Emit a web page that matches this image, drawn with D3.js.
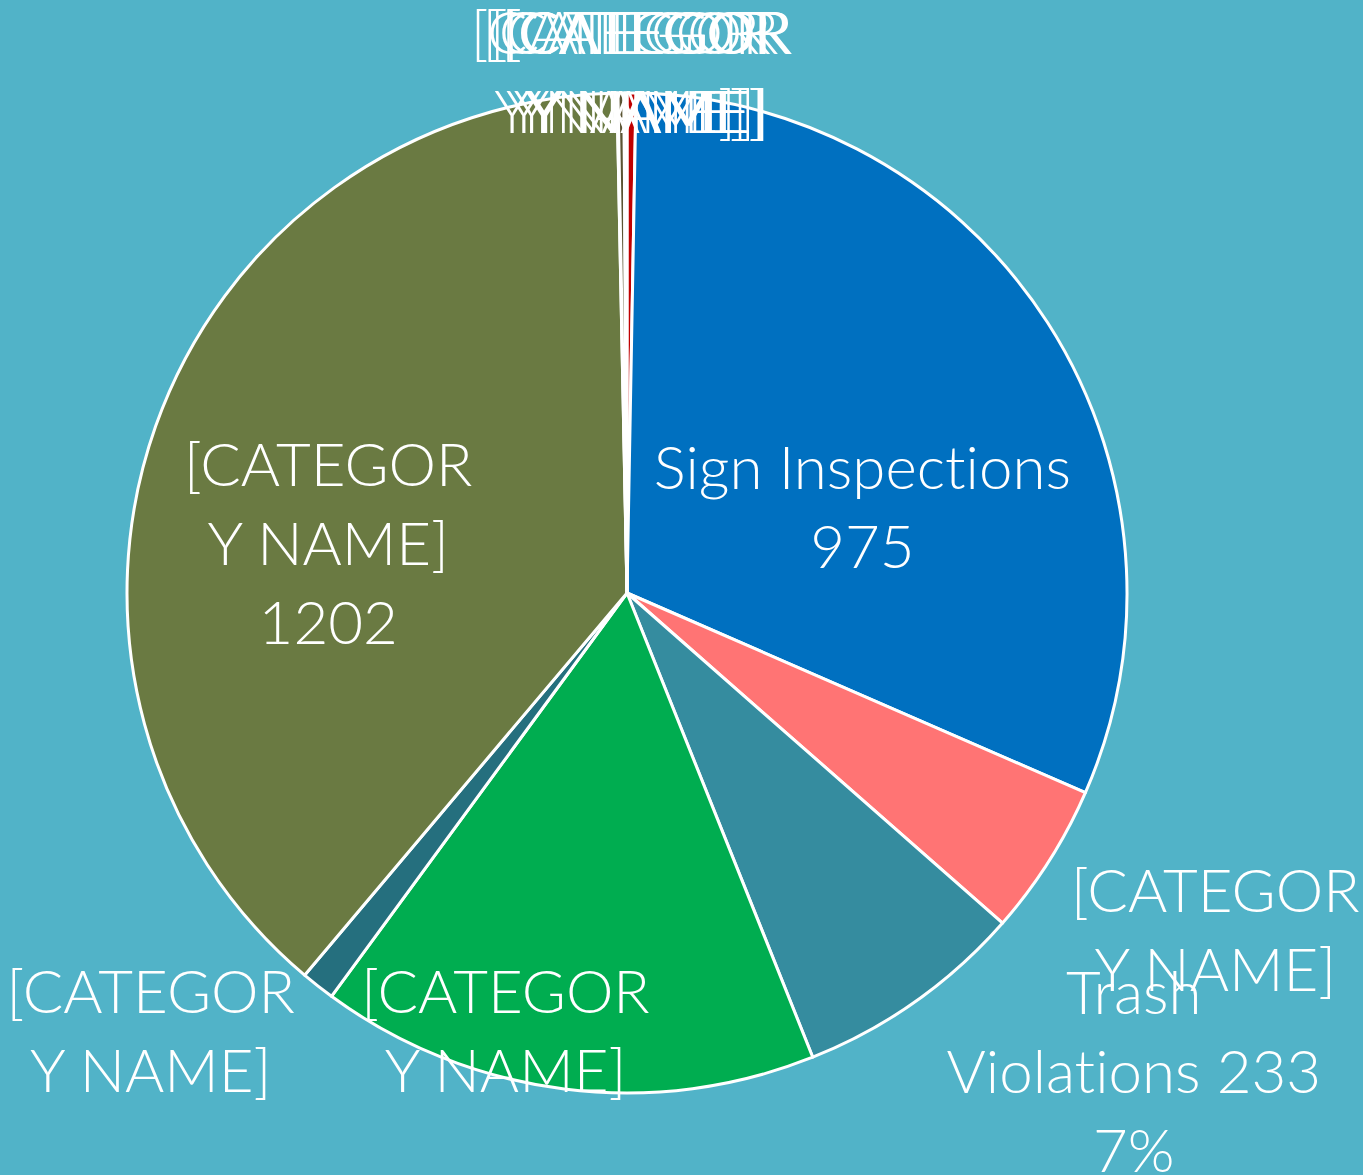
<!DOCTYPE html>
<html>
<head>
<meta charset="utf-8">
<script src="https://cdn.jsdelivr.net/npm/d3@7"></script>
<style>
  html, body { margin: 0; padding: 0; background: #51b3c8; }
  svg { display: block; }
  .lbl { font-family: Lato, "Open Sans", sans-serif; font-weight: 300; fill: #fff;
         font-variant-ligatures: none; font-feature-settings: "liga" 0; }
</style>
</head>
<body>
<svg id="chart" width="1363" height="1175"></svg>
<script>
// slices, clockwise from 12 o'clock
var categories = ['[CATEGORY NAME]', 'Sign Inspections', '[CATEGORY NAME]', 'Trash Violations',
  '[CATEGORY NAME]', '[CATEGORY NAME]', '[CATEGORY NAME]', '[CATEGORY NAME]',
  '[CATEGORY NAME]', '[CATEGORY NAME]', '[CATEGORY NAME]', '[CATEGORY NAME]'];
var values = [9, 975, 154, 233, 503, 34, 1202, 1, 6, 1, 1, 1];
var colors = ['#c00000', '#0070c0', '#ff7474', '#358c9f', '#00ad50', '#256f7e',
  '#6a7a42', '#8a6a3a', '#5b5433', '#a0a0a0', '#7f7f7f', '#4f6fa8'];
// label text as Excel wrapped it; {v} = value, {p} = percent
var labelText = [
  ['[CATEGOR', 'Y NAME]'],
  ['Sign Inspections', '{v}'],
  ['[CATEGOR', 'Y NAME]'],
  ['Trash', 'Violations {v}', '{p}'],
  ['[CATEGOR', 'Y NAME]'],
  ['[CATEGOR', 'Y NAME]'],
  ['[CATEGOR', 'Y NAME]', '{v}'],
  ['[CATEGOR', 'Y NAME]'],
  ['[CATEGOR', 'Y NAME]'],
  ['[CATEGOR', 'Y NAME]'],
  ['[CATEGOR', 'Y NAME]'],
  ['[CATEGOR', 'Y NAME]']
];

// layout of the labels (radius of anchor + nudge)
var labelR = [521, 250, 620, 620, 450, 620, 300, 521, 521, 521, 521, 521];
var nudge = [[16, 0], [25, 49], [65, 5], [149, -28], [-65, -8], [-93, -49], [-16, 51],
  [-2, 0], [6, 0], [10, 0], [20, 0], [22, 0]];

var W = 1363, H = 1175;
var cx = 627, cy = 593, radius = 500;
var fontSize = 60, lineH = 79, capH = 43;

var svg = d3.select('#chart');
svg.append('rect').attr('width', W).attr('height', H).attr('fill', '#51b3c8');

var total = d3.sum(values);
var pie = d3.pie().sort(null).value(function(d) { return d; });
var arcs = pie(values);

var arc = d3.arc().innerRadius(0).outerRadius(radius);

var g = svg.append('g').attr('transform', 'translate(' + cx + ',' + cy + ')');

g.selectAll('path.slice')
  .data(arcs)
  .enter().append('path')
  .attr('class', 'slice')
  .attr('d', arc)
  .attr('fill', function(d, i) { return colors[i]; })
  .attr('stroke', '#fff')
  .attr('stroke-width', 3)
  .attr('stroke-linejoin', 'round');

var fmtPct = function(v) { return Math.round(v / total * 100) + '%'; };

arcs.forEach(function(d, i) {
  var la = d3.arc().innerRadius(labelR[i]).outerRadius(labelR[i]);
  var c = la.centroid(d);
  var x = c[0] + nudge[i][0];
  var lines = labelText[i].map(function(s) {
    return s.replace('{v}', values[i]).replace('{p}', fmtPct(values[i]));
  });
  var y0 = c[1] + nudge[i][1] - (lines.length - 1) * lineH / 2 + capH / 2;
  var t = g.append('text')
    .attr('class', 'lbl')
    .attr('text-anchor', 'middle')
    .attr('font-size', fontSize);
  lines.forEach(function(s, k) {
    t.append('tspan').attr('x', x).attr('y', y0 + k * lineH).text(s);
  });
});
</script>
</body>
</html>
